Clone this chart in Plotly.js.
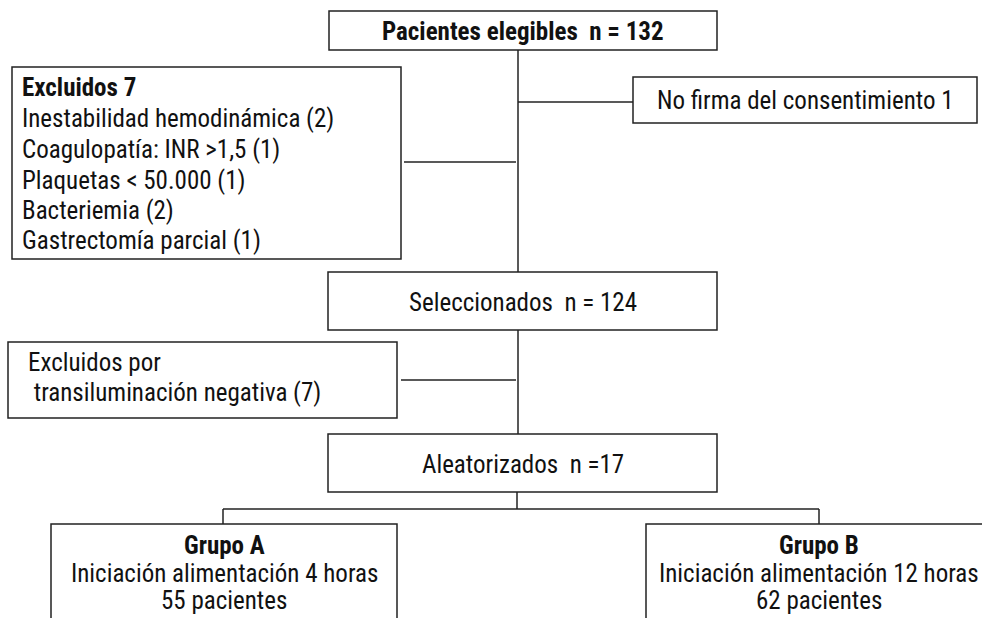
<!DOCTYPE html>
<html><head><meta charset="utf-8">
<script src="https://cdn.plot.ly/plotly-3.0.1.min.js"></script>
<style>html,body{margin:0;padding:0;background:#fff}#chart{width:982px;height:618px}</style>
</head><body><div id="chart"></div>
<script>
// Flow-chart content (texts and counts)
const nodeIds = ["elegibles","consent","excl","selec","transil","aleat","grupoA","grupoB"];
const nodeLines = {
  elegibles: ["<b>Pacientes elegibles  n = 132</b>"],
  consent: ["No firma del consentimiento 1"],
  excl: ["<b>Excluidos 7</b>","Inestabilidad hemodinámica (2)","Coagulopatía: INR >1,5 (1)","Plaquetas < 50.000 (1)","Bacteriemia (2)","Gastrectomía parcial (1)"],
  selec: ["Seleccionados  n = 124"],
  transil: ["Excluidos por"," transiluminación negativa (7)"],
  aleat: ["Aleatorizados  n =17"],
  grupoA: ["<b>Grupo A</b>","Iniciación alimentación 4 horas","55 pacientes"],
  grupoB: ["<b>Grupo B</b>","Iniciación alimentación 12 horas","62 pacientes"]
};

// Geometry (layout only)
const boxes = {
  elegibles:{x0:329,x1:717,y0:11,y1:50, align:"center", y:[31]},
  consent:{x0:633,x1:977,y0:77,y1:123, align:"center", y:[100]},
  excl:{x0:12,x1:401,y0:67,y1:259, align:"left", lx:20, y:[87,118,149,180,210,240]},
  selec:{x0:328,x1:717,y0:272,y1:330, align:"center", y:[302]},
  transil:{x0:8,x1:397,y0:342,y1:418, align:"left", lx:26, y:[362,392]},
  aleat:{x0:328,x1:717,y0:434,y1:492, align:"center", y:[464]},
  grupoA:{x0:51,x1:397,y0:524,y1:640, align:"center", y:[545,573,600]},
  grupoB:{x0:646,x1:992,y0:524,y1:640, align:"center", y:[545,573,600]}
};
const connectors = [
  [518,50,518,272],
  [518,102,633,102],
  [404,162,516,162],
  [518,330,518,434],
  [401,380,516,380],
  [517,492,517,509],
  [223,509,819,509],
  [223,509,223,524],
  [819,509,819,524]
];

const FONT = "'Liberation Sans Narrow','Arial Narrow','Roboto Condensed',Arial,sans-serif";
const shapes = [];
const annotations = [];
nodeIds.forEach(id => {
  const b = boxes[id];
  shapes.push({type:"rect", xref:"x", yref:"y", x0:b.x0, x1:b.x1, y0:b.y0, y1:b.y1,
    line:{color:"#222", width:1.5}, fillcolor:"rgba(0,0,0,0)"});
  nodeLines[id].forEach((t,i) => {
    annotations.push({xref:"x", yref:"y", x: b.align==="left" ? b.lx : (b.x0+b.x1)/2, y:b.y[i],
      text:t, showarrow:false, xanchor: b.align==="left" ? "left" : "center", yanchor:"middle",
      font:{family:FONT, size:25, color:"#111"}});
  });
});
connectors.forEach(c => shapes.push({type:"line", xref:"x", yref:"y", x0:c[0], y0:c[1], x1:c[2], y1:c[3],
  line:{color:"#222", width:1.5}}));

const layout = {
  width:982, height:618, margin:{l:0,r:0,t:0,b:0},
  paper_bgcolor:"#fff", plot_bgcolor:"#fff", showlegend:false,
  xaxis:{range:[0,982], visible:false, fixedrange:true},
  yaxis:{range:[618,0], visible:false, fixedrange:true},
  shapes, annotations
};
Plotly.newPlot("chart", [{x:[], y:[], type:"scatter", mode:"markers"}], layout, {staticPlot:true});
</script></body></html>
